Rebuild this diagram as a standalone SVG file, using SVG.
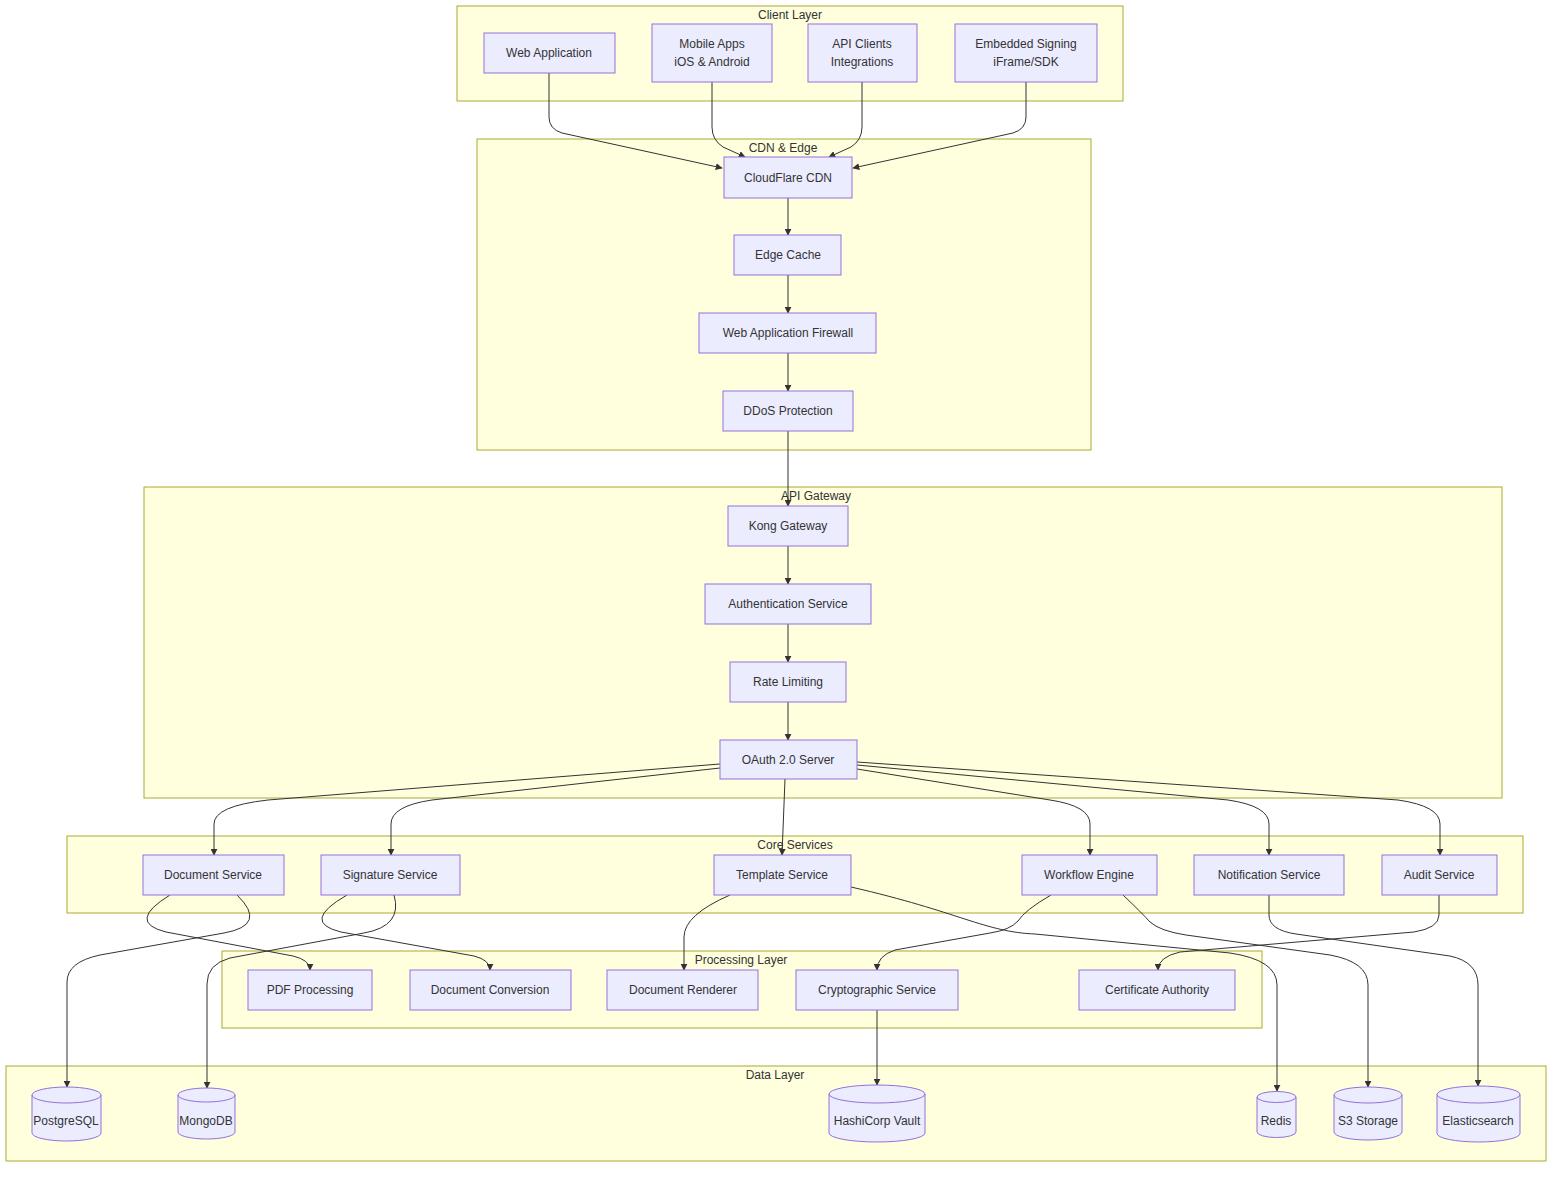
<svg xmlns="http://www.w3.org/2000/svg" width="1568" height="1180" viewBox="0 0 1568 1180">
<style>
.cl{fill:#ffffde;stroke:#aaaa33;stroke-width:1}
.ct{font-family:"Liberation Sans",Arial,sans-serif;font-size:12px;fill:#333;text-anchor:middle}
.n{fill:#ECECFF;stroke:#9370DB;stroke-width:1}
.t{font-family:"Liberation Sans",Arial,sans-serif;font-size:12px;fill:#333;text-anchor:middle}
.e{fill:none;stroke:#333;stroke-width:1}
</style>
<defs>
<marker id="ah" viewBox="0 0 10 10" refX="9" refY="5" markerWidth="7" markerHeight="7" markerUnits="userSpaceOnUse" orient="auto">
<path d="M0,0 L10,5 L0,10 z" fill="#333"/>
</marker>
</defs>
<rect width="1568" height="1180" fill="#ffffff"/>
<g id="clusters">
<g id="client-layer"><rect class="cl" x="457" y="6" width="666" height="95"/><text class="ct" x="790" y="19">Client Layer</text></g>
<g id="cdn-edge"><rect class="cl" x="477" y="139" width="614" height="311"/><text class="ct" x="783" y="152">CDN &amp; Edge</text></g>
<g id="api-gateway"><rect class="cl" x="144" y="487" width="1358" height="311"/><text class="ct" x="816" y="500">API Gateway</text></g>
<g id="core-services"><rect class="cl" x="67" y="836" width="1456" height="77"/><text class="ct" x="795" y="849">Core Services</text></g>
<g id="processing-layer"><rect class="cl" x="222" y="951" width="1040" height="77"/><text class="ct" x="741" y="964">Processing Layer</text></g>
<g id="data-layer"><rect class="cl" x="6" y="1066" width="1540" height="95"/><text class="ct" x="775" y="1079">Data Layer</text></g>
</g>
<g id="connectors">
<path class="e" marker-end="url(#ah)" d="M549,73 V117 Q549,129 562,133 L722,168"/>
<path class="e" marker-end="url(#ah)" d="M712,82 V127 Q712,140 723,147 L745,157"/>
<path class="e" marker-end="url(#ah)" d="M862,82 V127 Q862,140 851,147 L829,157"/>
<path class="e" marker-end="url(#ah)" d="M1026,82 V117 Q1026,129 1013,133 L853,168"/>
<path class="e" marker-end="url(#ah)" d="M788,198 V235"/>
<path class="e" marker-end="url(#ah)" d="M788,275 V313"/>
<path class="e" marker-end="url(#ah)" d="M788,353 V391"/>
<path class="e" marker-end="url(#ah)" d="M788,431 V506"/>
<path class="e" marker-end="url(#ah)" d="M788,546 V584"/>
<path class="e" marker-end="url(#ah)" d="M788,624 V662"/>
<path class="e" marker-end="url(#ah)" d="M788,702 V740"/>
<path class="e" marker-end="url(#ah)" d="M720,764 L268,800 Q214,806 214,824 V855"/>
<path class="e" marker-end="url(#ah)" d="M720,768 L432,800 Q391,806 391,824 V855"/>
<path class="e" marker-end="url(#ah)" d="M785,779 L782,855"/>
<path class="e" marker-end="url(#ah)" d="M857,769 L1050,800 Q1090,806 1090,824 V855"/>
<path class="e" marker-end="url(#ah)" d="M857,765 L1228,800 Q1269,806 1269,824 V855"/>
<path class="e" marker-end="url(#ah)" d="M857,762 L1398,800 Q1440,806 1440,824 V855"/>
<path class="e" marker-end="url(#ah)" d="M170,895 Q126,922 166,932 L293,956 Q310,960 310,970"/>
<path class="e" marker-end="url(#ah)" d="M237,895 Q268,925 224,933 L100,955 Q67,962 67,982 V1087"/>
<path class="e" marker-end="url(#ah)" d="M347,895 Q300,922 341,932 L474,956 Q490,960 490,970"/>
<path class="e" marker-end="url(#ah)" d="M394,895 Q403,926 364,933 L230,958 Q207,964 207,984 V1088"/>
<path class="e" marker-end="url(#ah)" d="M730,895 Q684,915 684,937 V970"/>
<path class="e" marker-end="url(#ah)" d="M851,887 C960,912 985,932 1035,934 L1230,953 Q1277,960 1277,985 V1091"/>
<path class="e" marker-end="url(#ah)" d="M1051,895 Q1025,910 1018,921 Q1010,930 990,933 L895,950 Q877,956 877,970"/>
<path class="e" marker-end="url(#ah)" d="M1123,895 Q1143,914 1150,922 Q1160,931 1186,935 L1330,955 Q1368,962 1368,985 V1087"/>
<path class="e" marker-end="url(#ah)" d="M1269,895 V915 Q1269,930 1296,934 L1450,956 Q1478,962 1478,985 V1086"/>
<path class="e" marker-end="url(#ah)" d="M1439,895 V915 Q1439,928 1414,932 L1180,952 Q1158,957 1158,970"/>
<path class="e" marker-end="url(#ah)" d="M877,1010 V1085"/>
</g>
<g id="nodes">
<g id="web-app"><rect class="n" x="484" y="33" width="131" height="40"/><text class="t" x="549" y="57">Web Application</text></g>
<g id="mobile-apps"><rect class="n" x="652" y="24" width="120" height="58"/><text class="t" x="712" y="48">Mobile Apps</text><text class="t" x="712" y="66">iOS &amp; Android</text></g>
<g id="api-clients"><rect class="n" x="808" y="24" width="109" height="58"/><text class="t" x="862" y="48">API Clients</text><text class="t" x="862" y="66">Integrations</text></g>
<g id="embedded-signing"><rect class="n" x="955" y="24" width="142" height="58"/><text class="t" x="1026" y="48">Embedded Signing</text><text class="t" x="1026" y="66">iFrame/SDK</text></g>
<g id="cloudflare-cdn"><rect class="n" x="724" y="157" width="128" height="41"/><text class="t" x="788" y="182">CloudFlare CDN</text></g>
<g id="edge-cache"><rect class="n" x="734" y="235" width="107" height="40"/><text class="t" x="788" y="259">Edge Cache</text></g>
<g id="waf"><rect class="n" x="699" y="313" width="177" height="40"/><text class="t" x="788" y="337">Web Application Firewall</text></g>
<g id="ddos"><rect class="n" x="723" y="391" width="130" height="40"/><text class="t" x="788" y="415">DDoS Protection</text></g>
<g id="kong"><rect class="n" x="728" y="506" width="120" height="40"/><text class="t" x="788" y="530">Kong Gateway</text></g>
<g id="auth"><rect class="n" x="705" y="584" width="166" height="40"/><text class="t" x="788" y="608">Authentication Service</text></g>
<g id="rate-limiting"><rect class="n" x="730" y="662" width="116" height="40"/><text class="t" x="788" y="686">Rate Limiting</text></g>
<g id="oauth"><rect class="n" x="720" y="740" width="137" height="39"/><text class="t" x="788" y="764">OAuth 2.0 Server</text></g>
<g id="document-service"><rect class="n" x="143" y="855" width="141" height="40"/><text class="t" x="213" y="879">Document Service</text></g>
<g id="signature-service"><rect class="n" x="321" y="855" width="139" height="40"/><text class="t" x="390" y="879">Signature Service</text></g>
<g id="template-service"><rect class="n" x="714" y="855" width="137" height="40"/><text class="t" x="782" y="879">Template Service</text></g>
<g id="workflow-engine"><rect class="n" x="1022" y="855" width="135" height="40"/><text class="t" x="1089" y="879">Workflow Engine</text></g>
<g id="notification-service"><rect class="n" x="1194" y="855" width="150" height="40"/><text class="t" x="1269" y="879">Notification Service</text></g>
<g id="audit-service"><rect class="n" x="1382" y="855" width="115" height="40"/><text class="t" x="1439" y="879">Audit Service</text></g>
<g id="pdf-processing"><rect class="n" x="248" y="970" width="124" height="40"/><text class="t" x="310" y="994">PDF Processing</text></g>
<g id="document-conversion"><rect class="n" x="410" y="970" width="161" height="40"/><text class="t" x="490" y="994">Document Conversion</text></g>
<g id="document-renderer"><rect class="n" x="607" y="970" width="151" height="40"/><text class="t" x="683" y="994">Document Renderer</text></g>
<g id="cryptographic-service"><rect class="n" x="796" y="970" width="162" height="40"/><text class="t" x="877" y="994">Cryptographic Service</text></g>
<g id="certificate-authority"><rect class="n" x="1079" y="970" width="156" height="40"/><text class="t" x="1157" y="994">Certificate Authority</text></g>
<g id="postgresql"><path class="n" d="M32,1095 a34.5,8 0 0 0 69,0 a34.5,8 0 0 0 -69,0 l0,38 a34.5,8 0 0 0 69,0 l0,-38"/><text class="t" x="66" y="1125">PostgreSQL</text></g>
<g id="mongodb"><path class="n" d="M178,1095 a28.5,7 0 0 0 57,0 a28.5,7 0 0 0 -57,0 l0,37 a28.5,7 0 0 0 57,0 l0,-37"/><text class="t" x="206" y="1125">MongoDB</text></g>
<g id="hashicorp-vault"><path class="n" d="M829,1094 a48,9 0 0 0 96,0 a48,9 0 0 0 -96,0 l0,39 a48,9 0 0 0 96,0 l0,-39"/><text class="t" x="877" y="1125">HashiCorp Vault</text></g>
<g id="redis"><path class="n" d="M1257,1097 a19.5,5.5 0 0 0 39,0 a19.5,5.5 0 0 0 -39,0 l0,35 a19.5,5.5 0 0 0 39,0 l0,-35"/><text class="t" x="1276" y="1125">Redis</text></g>
<g id="s3-storage"><path class="n" d="M1334,1095 a34,8 0 0 0 68,0 a34,8 0 0 0 -68,0 l0,37 a34,8 0 0 0 68,0 l0,-37"/><text class="t" x="1368" y="1125">S3 Storage</text></g>
<g id="elasticsearch"><path class="n" d="M1437,1094.5 a41.5,8.5 0 0 0 83,0 a41.5,8.5 0 0 0 -83,0 l0,39 a41.5,8.5 0 0 0 83,0 l0,-39"/><text class="t" x="1478" y="1125">Elasticsearch</text></g>
</g>
</svg>
